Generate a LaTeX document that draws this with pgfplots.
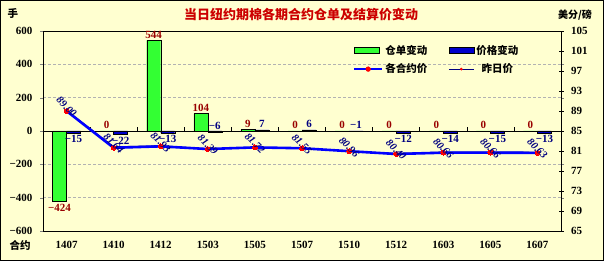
\documentclass[border=0pt]{standalone}
\usepackage{pgfplots}
\pgfplotsset{compat=1.18}
\usepackage{pgfplotstable}
\usepackage{fontspec}
\setmainfont{Liberation Serif}
\newfontfamily\cjk{Noto Sans CJK SC}
\definecolor{bgy}{RGB}{255,255,208}
\definecolor{gbar}{RGB}{51,255,51}
\definecolor{bbar}{RGB}{0,0,204}
\definecolor{lblue}{RGB}{0,0,255}
\definecolor{navy}{RGB}{0,0,128}
\definecolor{dred}{RGB}{153,0,0}
\definecolor{tred}{RGB}{204,0,0}

\pgfplotstableread{
x g b p yd
0 -424 -15 89.00 89.15
1 0 -22 81.64 81.86
2 544 -13 81.93 82.06
3 104 -6 81.39 81.45
4 9 7 81.72 81.65
5 0 6 81.55 81.49
6 0 -1 80.96 80.97
7 0 -12 80.40 80.52
8 0 -14 80.66 80.80
9 0 -15 80.66 80.81
10 0 -13 80.63 80.76
}\data

\begin{document}
\begin{tikzpicture}
\useasboundingbox (0,0) rectangle (604pt,261pt);
\draw[fill=bgy, line width=0.8pt] (0.4pt,0.4pt) rectangle (603.6pt,260.6pt);

\begin{axis}[
  at={(43pt,30pt)}, anchor=south west,
  scale only axis, width=518pt, height=200pt,
  xmin=-0.5, xmax=10.5, ymin=-600, ymax=600,
  ytick={-600,-400,...,600},
  yticklabels={−600,−400,−200,0,200,400,600},
  xtick={0,...,10},
  xticklabels={1407,1410,1412,1503,1505,1507,1510,1512,1603,1605,1607},
  major x tick style={draw=none},
  ytick align=outside, major tick length=3pt,
  ymajorgrids, grid style={densely dashed, gray!60},
  axis line style={black, line width=0.6pt},
  tick label style={font=\bfseries\fontsize{11}{12}\selectfont},
  xticklabel style={yshift=-7pt},
  yticklabel style={xshift=-4pt},
  axis background/.style={fill=bgy},
  clip=false,
  lab/.style={only marks, mark=none, nodes near coords, point meta=explicit symbolic},
]
\addplot[ybar, bar width=14pt, bar shift=-7pt, fill=gbar, draw=black, line width=0.4pt]
  table[x=x, y=g] {\data};
\addplot[ybar, bar width=14pt, bar shift=7pt, fill=bbar, draw=black, line width=0.4pt]
  table[x=x, y=b] {\data};
% value labels of the bars
\addplot[lab, nodes near coords style={anchor=south, xshift=-7pt, text=dred, font=\bfseries\fontsize{11}{12}\selectfont, inner sep=2pt}]
  coordinates {(1,0) [0] (2,544) [544] (3,104) [104] (4,9) [9] (5,0) [0] (6,0) [0] (7,0) [0] (8,0) [0] (9,0) [0] (10,0) [0]};
\addplot[lab, nodes near coords style={anchor=north, xshift=-7pt, text=dred, font=\bfseries\fontsize{11}{12}\selectfont, inner sep=2pt}]
  coordinates {(0,-424) [−424]};
\addplot[lab, nodes near coords style={anchor=south, xshift=7pt, text=navy, font=\bfseries\fontsize{11}{12}\selectfont, inner sep=2pt}]
  coordinates {(3,-6) [−6] (4,7) [7] (5,6) [6] (6,-1) [−1]};
\addplot[lab, nodes near coords style={anchor=north, xshift=7pt, text=navy, font=\bfseries\fontsize{11}{12}\selectfont, inner sep=2pt}]
  coordinates {(0,-15) [−15] (1,-22) [−22] (2,-13) [−13] (7,-12) [−12] (8,-14) [−14] (9,-15) [−15] (10,-13) [−13]};
\end{axis}

\begin{axis}[
  at={(43pt,30pt)}, anchor=south west,
  scale only axis, width=518pt, height=200pt,
  xmin=-0.5, xmax=10.5, ymin=-600, ymax=600,
  axis x line=middle, axis y line=none,
  axis line style={-, black, line width=0.6pt},
  xtick={0.5,1.5,...,9.5}, xticklabels={},
  ytick=\empty,
  xtick align=inside, major tick length=4pt,
  tick style={black, line width=0.6pt},
]
\end{axis}

\begin{axis}[
  at={(43pt,30pt)}, anchor=south west,
  scale only axis, width=518pt, height=200pt,
  xmin=-0.5, xmax=10.5, ymin=65, ymax=105,
  axis x line=none, axis y line*=right,
  axis line style={black, line width=0.6pt},
  ytick={65,69,...,105},
  ytick align=center, major tick length=5pt,
  tick style={black, line width=0.6pt},
  /pgf/number format/assume math mode=true,
  yticklabel style={font=\bfseries\fontsize{11}{12}\selectfont, xshift=4pt},
  legend columns=2,
  legend style={at={(0.592,0.95)}, anchor=north west, draw=none, fill=none,
    font=\cjk\bfseries\fontsize{10.5}{12}\selectfont,
    /tikz/every even column/.append style={column sep=19pt},
    row sep=4pt},
  clip=false,
]
\addplot[navy, line width=0.8pt, mark=*, mark size=1.2pt,
  mark options={fill=red, draw=red}, forget plot]
  table[x=x, y=yd] {\data};
\addplot[lblue, line width=2.6pt, mark=*, mark size=2.4pt,
  mark options={fill=red, draw=red, line width=0pt},
  nodes near coords, point meta=explicit symbolic,
  nodes near coords style={anchor=center, rotate=-45, text=navy,
    font=\bfseries\itshape\fontsize{10.5}{11}\selectfont, xshift=-3pt, yshift=3pt},
  forget plot]
  table[x=x, y=p, meta=p] {\data};
\addlegendimage{legend image code/.code={\draw[fill=gbar,draw=black] (0pt,-3pt) rectangle (25pt,3pt);}}
\addlegendentry{仓单变动}
\addlegendimage{legend image code/.code={\draw[fill=bbar,draw=black] (0pt,-3pt) rectangle (25pt,3pt);}}
\addlegendentry{价格变动}
\addlegendimage{legend image code/.code={\draw[lblue,line width=2.6pt] (0pt,0pt) -- (28pt,0pt); \fill[red] (14pt,0pt) circle (2.4pt);}}
\addlegendentry{各合约价}
\addlegendimage{legend image code/.code={\draw[navy,line width=0.8pt] (0pt,0pt) -- (25pt,0pt); \fill[red] (12.5pt,0pt) circle (1.2pt);}}
\addlegendentry{昨日价}
\end{axis}

\node[font=\cjk\bfseries\fontsize{13}{14}\selectfont, text=tred] at (301pt,246pt) {当日纽约期棉各期合约仓单及结算价变动};
\node[font=\cjk\bfseries\fontsize{10.5}{12}\selectfont] at (13pt,247pt) {手};
\node[font=\cjk\bfseries\fontsize{10}{12}\selectfont] at (575pt,246pt) {美分/磅};
\node[font=\cjk\bfseries\fontsize{10.5}{12}\selectfont] at (20pt,16pt) {合约};
\end{tikzpicture}
\end{document}
